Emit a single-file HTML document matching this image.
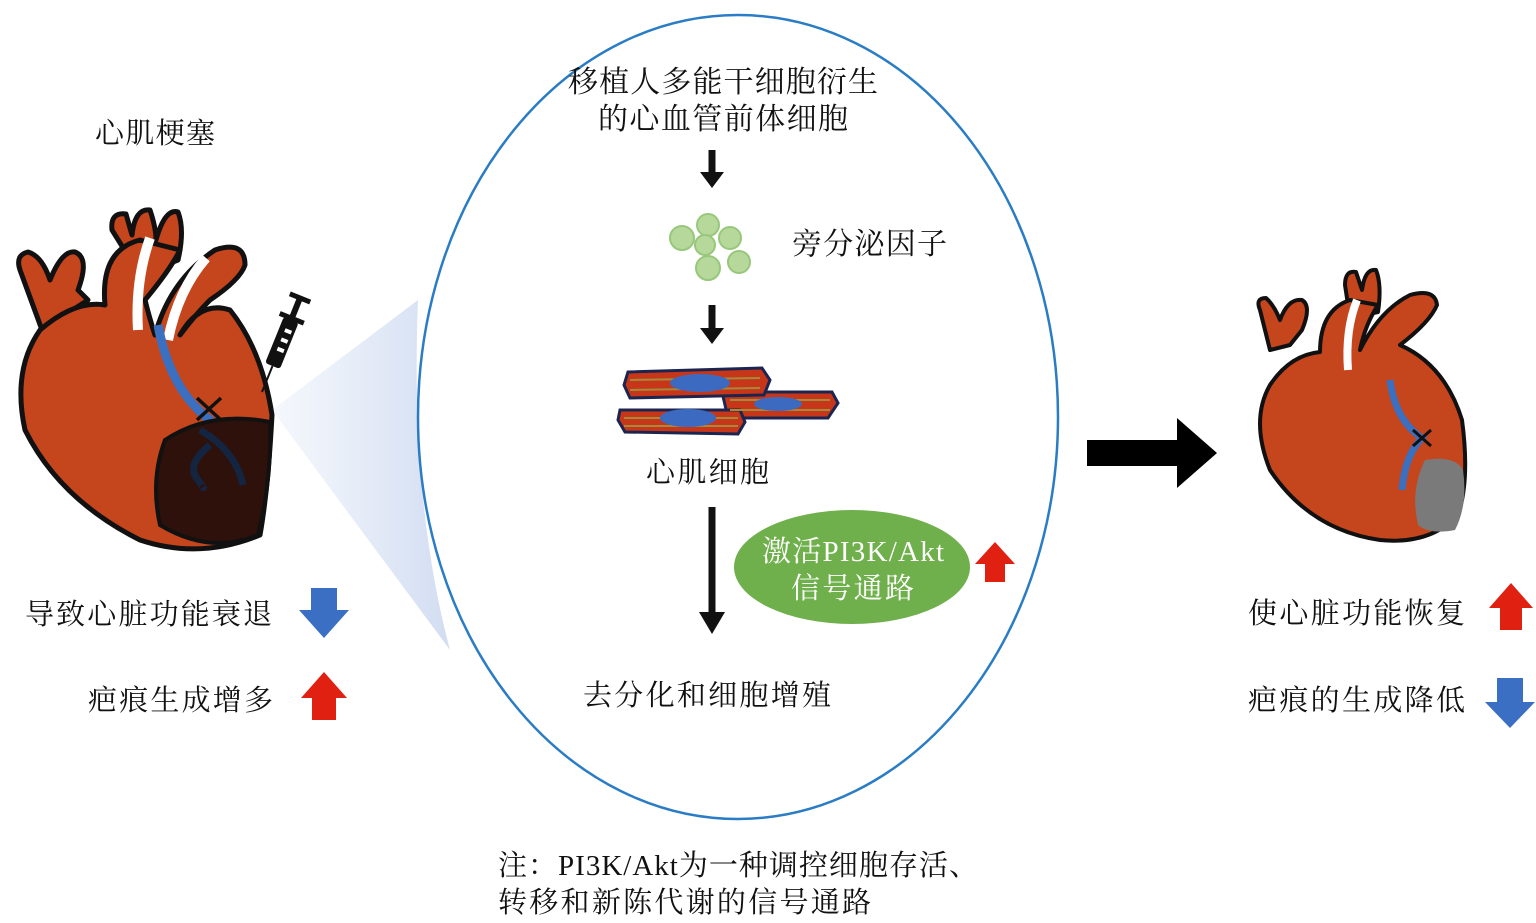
<!DOCTYPE html>
<html><head><meta charset="utf-8"><style>
body{margin:0;background:#fff;}
svg{display:block}
text{font-family:"Liberation Serif","Noto Serif CJK SC",serif;fill:#111}
</style></head><body>
<svg width="1536" height="923" viewBox="0 0 1536 923">
<defs>
<linearGradient id="cone" x1="0" x2="1" y1="0" y2="0"><stop offset="0" stop-color="#dde6f5" stop-opacity="0.3"/><stop offset="1" stop-color="#d2ddf2"/></linearGradient>
</defs>
<!-- cone -->
<path d="M272,410 L418,300 Q410,500 450,650 Z" fill="url(#cone)"/>
<!-- ellipse -->
<ellipse cx="738" cy="417" rx="320" ry="402" fill="none" stroke="#2a7cc4" stroke-width="2.5"/>

<!-- left heart -->
<g stroke="#111" stroke-width="5" stroke-linejoin="round">
<path d="M20,270 Q15,255 28,252 Q42,256 50,280 Q62,250 75,252 Q90,258 78,290 L88,300 L42,330 Z" fill="#c5451c"/>
<path d="M112,230 Q110,212 126,214 L132,235 Q135,208 150,210 Q156,228 156,240 Q165,208 178,212 Q185,230 178,260 L140,275 Z" fill="#c5451c"/>
<path d="M105,305 Q100,250 140,240 L180,250 Q170,270 145,300 Q150,320 155,335 Q170,280 215,250 Q245,240 245,265 Q240,280 210,300 Q195,315 180,335 Q200,300 230,310 Q262,350 272,415 Q268,490 260,535 Q200,560 140,540 Q60,500 25,430 Q12,370 40,330 Q75,300 105,305 Z" fill="#c5451c"/>
</g>
<path d="M150,238 Q135,280 138,330" stroke="#fff" stroke-width="10" fill="none"/>
<path d="M206,258 Q178,290 168,340" stroke="#fff" stroke-width="10" fill="none"/>
<path d="M158,325 Q170,390 210,420 Q220,440 210,470" stroke="#3b6fc0" stroke-width="9" fill="none"/>
<path d="M270,422 Q210,410 165,440 Q150,480 160,525 Q210,555 258,535 Q272,480 270,422 Z" fill="#2e110a" stroke="#111" stroke-width="4"/>
<path d="M200,430 Q235,450 243,485 M210,445 Q185,465 198,480 Q205,490 203,487" stroke="#132540" stroke-width="7" fill="none"/>
<path d="M197,398 L221,420 M221,398 L197,420" stroke="#111" stroke-width="3.5"/>
<!-- syringe -->
<g transform="translate(262,392) rotate(22)">
<line x1="0" y1="0" x2="0" y2="-28" stroke="#111" stroke-width="2"/>
<rect x="-8" y="-78" width="16" height="50" rx="3" fill="#111"/>
<rect x="-2" y="-68" width="7" height="4" fill="#fff"/><rect x="-2" y="-58" width="7" height="4" fill="#fff"/><rect x="-2" y="-48" width="7" height="4" fill="#fff"/>
<rect x="-13" y="-82" width="26" height="5" fill="#111"/>
<rect x="-3" y="-100" width="6" height="20" fill="#111"/>
<rect x="-11" y="-104" width="22" height="5" fill="#111"/>
</g>

<text x="95" y="143" font-size="29" textLength="120">心肌梗塞</text>
<text x="25" y="624" font-size="29" textLength="247">导致心脏功能衰退</text>
<text x="88" y="710" font-size="29" textLength="185">疤痕生成增多</text>
<path d="M311,588 h26 v22 h12 l-25,28 l-25,-28 h12 z" fill="#3a6fc4"/>
<path d="M312,720 h24 v-22 h11 l-23,-26 l-23,26 h11 z" fill="#e02010"/>

<!-- center -->
<text x="568" y="92" font-size="30" textLength="310">移植人多能干细胞衍生</text>
<text x="598" y="129" font-size="30" textLength="250">的心血管前体细胞</text>
<path d="M712,150 v25" stroke="#111" stroke-width="7"/><path d="M700,172 h24 l-12,16 z" fill="#111"/>
<g fill="#b6d99b" stroke="#97c77a" stroke-width="2">
<circle cx="682" cy="238" r="12"/><circle cx="708" cy="225" r="11"/><circle cx="730" cy="238" r="11"/><circle cx="705" cy="245" r="10"/><circle cx="739" cy="262" r="11"/><circle cx="708" cy="268" r="12"/>
</g>
<text x="792" y="254" font-size="30" textLength="155">旁分泌因子</text>
<path d="M712,305 v25" stroke="#111" stroke-width="7"/><path d="M700,328 h24 l-12,16 z" fill="#111"/>
<g stroke="#1b2550" stroke-width="3">
<path d="M722,392 L832,392 L838,403 L828,418 L728,418 Z" fill="#c8361a"/>
<path d="M628,372 L762,368 L770,380 L764,395 L630,398 L624,385 Z" fill="#c8361a"/>
<path d="M620,410 L740,410 L745,422 L738,434 L625,432 L618,420 Z" fill="#c8361a"/>
</g>
<g stroke="#a48a3a" stroke-width="2"><line x1="630" y1="380" x2="760" y2="378"/><line x1="630" y1="390" x2="760" y2="388"/><line x1="624" y1="418" x2="738" y2="418"/><line x1="624" y1="426" x2="738" y2="426"/><line x1="730" y1="400" x2="830" y2="400"/><line x1="730" y1="410" x2="830" y2="410"/></g>
<ellipse cx="700" cy="383" rx="30" ry="9" fill="#3c6ac0"/>
<ellipse cx="688" cy="418" rx="28" ry="9" fill="#3c6ac0"/>
<ellipse cx="778" cy="404" rx="24" ry="7" fill="#3c6ac0"/>
<text x="646" y="482" font-size="29" textLength="123">心肌细胞</text>
<path d="M712,507 v112" stroke="#111" stroke-width="7"/><path d="M699,612 h26 l-13,22 z" fill="#111"/>
<ellipse cx="852" cy="567" rx="118" ry="57" fill="#6fb04c"/>
<text x="762" y="561" font-size="29" textLength="182" style="fill:#fff">激活PI3K/Akt</text>
<text x="791" y="598" font-size="29" textLength="123" style="fill:#fff">信号通路</text>
<path d="M985,582 h20 v-18 h10 l-20,-22 l-20,22 h10 z" fill="#e02010"/>
<text x="583" y="705" font-size="29" textLength="248">去分化和细胞增殖</text>
<text x="498" y="875" font-size="29" textLength="480">注：PI3K/Akt为一种调控细胞存活、</text>
<text x="498" y="912" font-size="29" textLength="373">转移和新陈代谢的信号通路</text>

<path d="M1087,440 h90 v-22 l40,35 l-40,35 v-22 h-90 z" fill="#000"/>

<!-- right heart -->
<g stroke="#111" stroke-width="4" stroke-linejoin="round">
<path d="M1260,310 Q1255,298 1266,298 Q1274,305 1280,320 Q1288,298 1302,300 Q1312,306 1302,330 L1290,345 L1270,350 Z" fill="#c5451c"/>
<path d="M1345,285 Q1345,270 1356,272 L1362,290 Q1365,268 1376,270 Q1382,285 1378,312 L1350,318 Z" fill="#c5451c"/>
<path d="M1320,352 Q1320,310 1350,300 L1378,305 Q1365,325 1360,350 Q1380,310 1410,295 Q1435,288 1437,305 Q1430,322 1400,345 Q1445,365 1462,420 Q1470,480 1458,515 Q1430,545 1380,540 Q1310,530 1270,470 Q1250,420 1270,385 Q1290,355 1320,352 Z" fill="#c5451c"/>
</g>
<path d="M1357,300 Q1345,330 1348,370" stroke="#fff" stroke-width="8" fill="none"/>
<path d="M1390,380 Q1395,420 1422,438 Q1405,455 1402,490" stroke="#3b6fc0" stroke-width="7" fill="none"/>
<path d="M1425,460 Q1455,455 1463,470 Q1468,505 1455,530 Q1430,535 1418,525 Q1410,490 1425,460 Z" fill="#7a7a7a"/>
<path d="M1413,430 L1431,446 M1431,430 L1413,446" stroke="#111" stroke-width="3"/>

<text x="1248" y="623" font-size="29" textLength="217">使心脏功能恢复</text>
<text x="1248" y="710" font-size="29" textLength="217">疤痕的生成降低</text>
<path d="M1500,630 h22 v-22 h11 l-22,-25 l-22,25 h11 z" fill="#e02010"/>
<path d="M1497,678 h26 v24 h12 l-25,26 l-25,-26 h12 z" fill="#3a6fc4"/>
</svg>
</body></html>
